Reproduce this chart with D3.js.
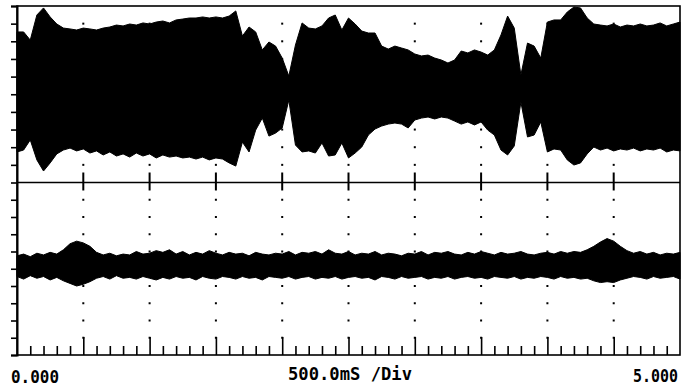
<!DOCTYPE html>
<html>
<head>
<meta charset="utf-8">
<script src="https://cdn.jsdelivr.net/npm/d3@7"></script>
<style>
  html, body { margin: 0; padding: 0; background: #fff; }
  svg { display: block; }
  .lbl { font-family: "DejaVu Sans Mono", "Liberation Mono", monospace; font-weight: bold; font-size: 17px; fill: #000; }
</style>
</head>
<body>
<div id="chart"></div>
<script>
// time base: 5 s record, envelope read every 50 ms
const sampleStep = 0.05;
const timeLabels = ["0.000", "5.000"];
const scaleLabel = "500.0mS /Div";

// channel 1 envelope (divisions, relative to its trace offset)
const ch1Upper = [3.53, 3.53, 3.07, 4.49, 4.89, 4.38, 3.98, 3.75, 3.70, 3.64,
  3.75, 3.70, 3.64, 3.75, 3.81, 3.92, 3.87, 3.98, 3.92, 4.04,
  3.98, 4.09, 4.15, 4.04, 4.21, 4.26, 4.32, 4.32, 4.38, 4.32,
  4.38, 4.32, 4.43, 4.72, 3.30, 3.81, 3.53, 2.51, 2.96, 2.73,
  2.05, 1.03, 2.79, 4.04, 3.75, 3.70, 3.87, 4.32, 4.49, 3.64,
  4.32, 3.98, 3.58, 3.47, 3.47, 2.73, 2.56, 2.73, 2.62, 2.51,
  2.28, 2.17, 2.22, 2.05, 1.94, 1.77, 1.94, 2.45, 2.34, 2.51,
  2.39, 2.22, 2.51, 3.36, 4.43, 3.75, 1.09, 2.90, 2.73, 2.05,
  4.09, 4.21, 4.21, 4.66, 4.94, 4.89, 4.32, 3.98, 3.92, 3.87,
  3.98, 3.81, 3.92, 3.87, 3.98, 3.87, 3.92, 4.04, 3.87, 3.98, 4.09];
const ch1Lower = [-3.27, -3.16, -2.59, -3.72, -4.35, -3.89, -3.38, -3.16, -3.05, -3.21,
  -3.10, -3.33, -3.21, -3.44, -3.27, -3.50, -3.38, -3.56, -3.33, -3.50,
  -3.38, -3.61, -3.44, -3.56, -3.50, -3.61, -3.56, -3.67, -3.56, -3.72,
  -3.61, -3.67, -3.89, -4.07, -2.71, -3.27, -2.03, -1.35, -2.37, -2.20,
  -1.91, -0.33, -2.88, -3.27, -3.21, -3.33, -2.76, -3.50, -3.44, -2.76,
  -3.61, -3.33, -2.99, -2.31, -1.97, -1.80, -1.69, -1.63, -1.69, -1.91,
  -1.46, -1.35, -1.29, -1.40, -1.29, -1.35, -1.52, -1.69, -1.57, -1.74,
  -1.57, -2.03, -2.31, -3.16, -3.44, -2.93, -0.44, -2.42, -2.31, -1.57,
  -3.27, -3.10, -3.16, -3.72, -4.01, -3.89, -3.38, -2.99, -3.16, -3.05,
  -3.21, -3.10, -3.16, -3.05, -3.21, -3.10, -3.16, -3.05, -3.27, -3.16, -3.21];

// channel 2 envelope
const ch2Upper = [0.75, 0.85, 0.70, 0.90, 0.80, 0.95, 0.85, 1.10, 1.45, 1.60,
  1.50, 1.30, 0.95, 0.80, 0.90, 0.75, 0.85, 0.80, 1.00, 0.85,
  0.90, 1.05, 0.95, 1.10, 0.85, 1.00, 0.80, 0.95, 0.85, 1.05,
  0.90, 0.80, 0.95, 0.85, 0.90, 0.75, 0.95, 0.85, 0.80, 0.90,
  0.85, 1.00, 0.80, 0.95, 0.90, 1.00, 0.85, 1.10, 0.90, 0.85,
  1.00, 0.80, 0.90, 0.85, 1.00, 0.80, 0.90, 0.85, 0.75, 0.90,
  0.85, 1.00, 0.80, 0.95, 0.90, 1.00, 0.85, 0.80, 0.95, 0.85,
  1.00, 0.90, 0.80, 0.95, 0.85, 0.90, 1.00, 0.85, 0.80, 0.90,
  0.95, 0.85, 1.00, 0.90, 1.00, 0.95, 1.10, 1.30, 1.55, 1.75,
  1.60, 1.30, 1.05, 0.90, 1.00, 0.85, 0.95, 0.80, 0.90, 0.85, 0.95];
const ch2Lower = [-0.45, -0.60, -0.40, -0.55, -0.45, -0.65, -0.50, -0.70, -0.85, -1.00,
  -0.90, -0.75, -0.55, -0.45, -0.60, -0.40, -0.55, -0.50, -0.60, -0.45,
  -0.55, -0.65, -0.50, -0.60, -0.45, -0.55, -0.50, -0.65, -0.45, -0.55,
  -0.60, -0.45, -0.50, -0.60, -0.45, -0.55, -0.50, -0.65, -0.45, -0.50,
  -0.55, -0.45, -0.60, -0.50, -0.45, -0.60, -0.50, -0.55, -0.45, -0.60,
  -0.50, -0.45, -0.55, -0.50, -0.65, -0.45, -0.50, -0.60, -0.45, -0.55,
  -0.50, -0.45, -0.60, -0.50, -0.55, -0.45, -0.60, -0.50, -0.45, -0.55,
  -0.50, -0.60, -0.45, -0.50, -0.55, -0.45, -0.60, -0.50, -0.55, -0.45,
  -0.50, -0.60, -0.45, -0.55, -0.50, -0.60, -0.55, -0.70, -0.80, -0.75,
  -0.80, -0.65, -0.55, -0.45, -0.50, -0.60, -0.45, -0.55, -0.50, -0.45, -0.60];

const ch1Offset = 5, ch2Offset = -5;

const width = 685, height = 388;
const svg = d3.select("#chart").append("svg")
  .attr("width", width).attr("height", height)
  .style("background", "#fff");

const x = d3.scaleLinear().domain([0, 5]).range([17, 680]);
const y = d3.scaleLinear().domain([-10, 0, 10]).range([355, 182.5, 6]);

const majors = d3.range(0, 11).map(d => d * 0.5);
const minors = d3.range(0, 51).map(d => d * 0.1).filter(d => Math.abs(d / 0.5 - Math.round(d / 0.5)) > 1e-6);

// dotted graticule on the division lines
const grid = svg.append("g");
majors.slice(1, 10).forEach(t => {
  d3.range(-9, 10).filter(k => k !== 0).forEach(k => {
    grid.append("rect")
      .attr("x", x(t) - 1).attr("y", y(k) - 1)
      .attr("width", 2).attr("height", 2)
      .attr("fill", "#000");
  });
});

// traces
function drawTrace(upper, lower, offset) {
  const pts = upper.map((u, i) => ({ t: i * sampleStep, hi: u + offset, lo: lower[i] + offset }));
  const area = d3.area()
    .x(d => x(d.t))
    .y0(d => y(d.lo))
    .y1(d => y(d.hi))
    .curve(d3.curveLinear);
  svg.append("path")
    .datum(pts)
    .attr("d", area)
    .attr("fill", "#000")
    .attr("stroke", "#000")
    .attr("stroke-width", 1)
    .attr("stroke-linejoin", "miter");
}
drawTrace(ch1Upper, ch1Lower, ch1Offset);
drawTrace(ch2Upper, ch2Lower, ch2Offset);

// centre line with division crosses
svg.append("line")
  .attr("x1", x(0)).attr("x2", x(5))
  .attr("y1", y(0)).attr("y2", y(0))
  .attr("stroke", "#000").attr("stroke-width", 1.6);
majors.slice(1, 10).forEach(t => {
  svg.append("line")
    .attr("x1", x(t)).attr("x2", x(t))
    .attr("y1", y(0) - 10).attr("y2", y(0) + 8)
    .attr("stroke", "#000").attr("stroke-width", 2);
});

// frame
svg.append("rect")
  .attr("x", x(0)).attr("y", y(10))
  .attr("width", x(5) - x(0)).attr("height", y(-10) - y(10))
  .attr("fill", "none").attr("stroke", "#000").attr("stroke-width", 1.6);

// left axis ticks
const yAxis = svg.append("g")
  .attr("transform", `translate(${x(0)},0)`)
  .call(d3.axisLeft(y).tickValues(d3.range(-10, 11)).tickSize(6).tickFormat(""));
yAxis.select(".domain").attr("stroke-width", 2);
yAxis.selectAll(".tick line").attr("stroke-width", 1.6);

// bottom axis ticks pointing up
const xMinor = svg.append("g")
  .attr("transform", `translate(0,${y(-10)})`)
  .call(d3.axisTop(x).tickValues(minors).tickSize(9).tickFormat(""));
xMinor.select(".domain").remove();
xMinor.selectAll(".tick line").attr("stroke-width", 1.6);
const xMajor = svg.append("g")
  .attr("transform", `translate(0,${y(-10)})`)
  .call(d3.axisTop(x).tickValues(majors.slice(1, 10)).tickSize(18).tickFormat(""));
xMajor.select(".domain").remove();
xMajor.selectAll(".tick line").attr("stroke-width", 1.6);

// labels
svg.append("text").attr("class", "lbl")
  .attr("x", 11).attr("y", 383)
  .attr("textLength", 48).attr("lengthAdjust", "spacingAndGlyphs")
  .text(timeLabels[0]);
svg.append("text").attr("class", "lbl")
  .attr("x", 288).attr("y", 380)
  .attr("textLength", 124).attr("lengthAdjust", "spacingAndGlyphs")
  .text(scaleLabel);
svg.append("text").attr("class", "lbl")
  .attr("x", 633).attr("y", 382)
  .attr("textLength", 45).attr("lengthAdjust", "spacingAndGlyphs")
  .text(timeLabels[1]);
</script>
</body>
</html>
